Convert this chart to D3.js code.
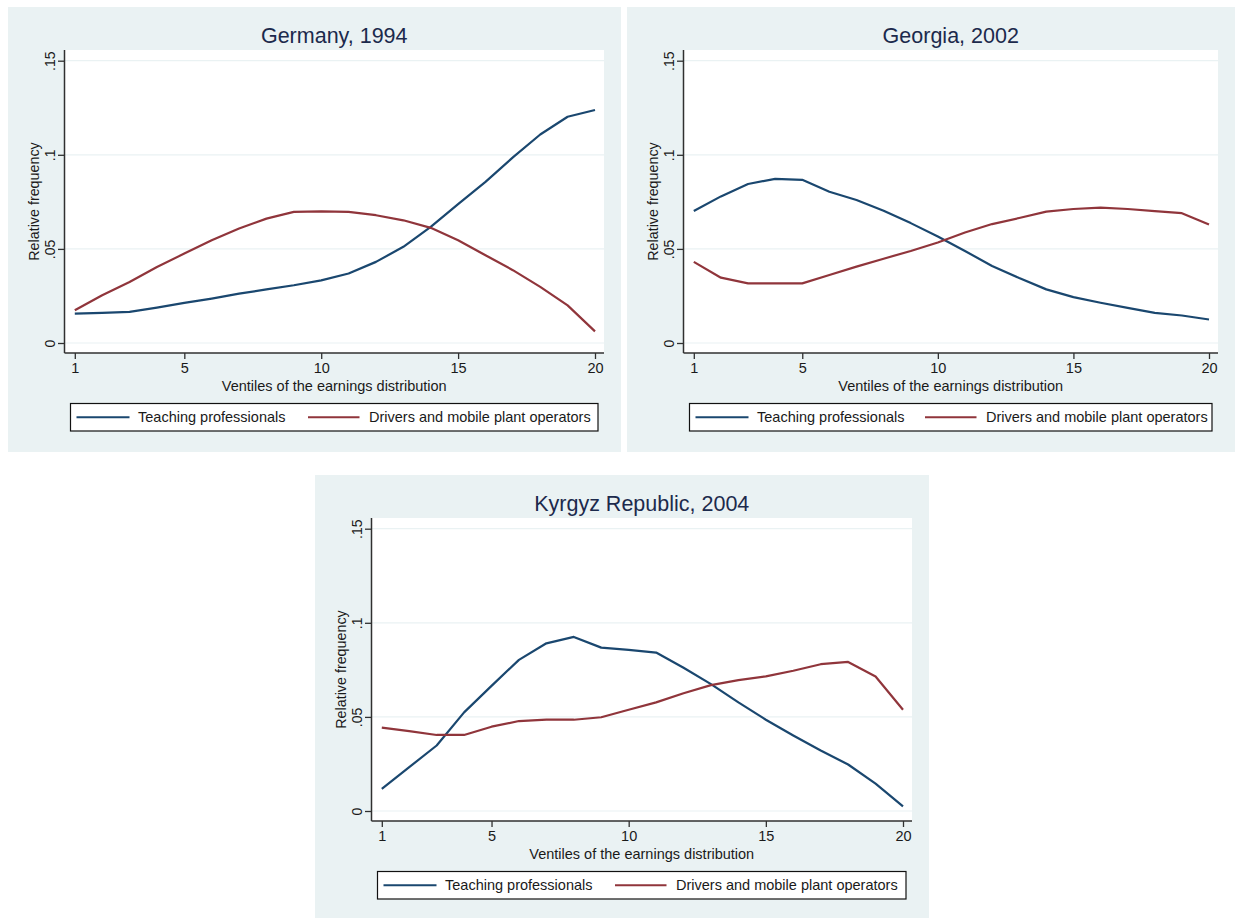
<!DOCTYPE html>
<html>
<head>
<meta charset="utf-8">
<title>Occupational distribution across earnings ventiles</title>
<script src="https://cdn.jsdelivr.net/npm/d3@7"></script>
<style>
  html, body { margin: 0; padding: 0; background: #ffffff; }
  svg { display: block; font-family: "Liberation Sans", Arial, sans-serif; }
</style>
</head>
<body>
<svg id="chart" width="1235" height="918"></svg>
<script>
// Ventiles of the earnings distribution (x categories)
const ventiles = d3.range(1, 21);
const xTicks = [1, 5, 10, 15, 20];
const yTicks = [0, 0.05, 0.1, 0.15];
const seriesNames = ["Teaching professionals", "Drivers and mobile plant operators"];

// Relative frequency by ventile, Germany 1994
const germanyTeaching = [0.0156, 0.0160, 0.0165, 0.0188, 0.0213, 0.0236, 0.0262, 0.0285, 0.0307, 0.0333,
                         0.0369, 0.0431, 0.0511, 0.0617, 0.0738, 0.0856, 0.0986, 0.1108, 0.1202, 0.1238];
const germanyDrivers  = [0.0174, 0.0254, 0.0324, 0.0404, 0.0475, 0.0546, 0.0608, 0.0661, 0.0697, 0.0699,
                         0.0697, 0.0679, 0.0652, 0.0612, 0.0546, 0.0466, 0.0387, 0.0298, 0.0200, 0.0062];

// Georgia 2002
const georgiaTeaching = [0.0701, 0.0779, 0.0845, 0.0872, 0.0867, 0.0804, 0.0760, 0.0703, 0.0637, 0.0566,
                         0.0489, 0.0409, 0.0345, 0.0285, 0.0244, 0.0214, 0.0187, 0.0160, 0.0146, 0.0125];
const georgiaDrivers  = [0.0431, 0.0347, 0.0317, 0.0317, 0.0317, 0.0361, 0.0406, 0.0448, 0.0489, 0.0534,
                         0.0587, 0.0632, 0.0664, 0.0698, 0.0712, 0.0719, 0.0712, 0.0701, 0.0690, 0.0630];

// Kyrgyz Republic 2004
const kyrgyzTeaching  = [0.0118, 0.0233, 0.0348, 0.0524, 0.0665, 0.0803, 0.0891, 0.0925, 0.0868, 0.0856,
                         0.0842, 0.0761, 0.0674, 0.0577, 0.0485, 0.0401, 0.0321, 0.0247, 0.0145, 0.0025];
const kyrgyzDrivers   = [0.0443, 0.0424, 0.0404, 0.0404, 0.0448, 0.0478, 0.0485, 0.0485, 0.0498, 0.0538,
                         0.0577, 0.0626, 0.0669, 0.0695, 0.0715, 0.0745, 0.0780, 0.0792, 0.0715, 0.0538];

const panels = [
  { title: "Germany, 1994",         box: { x: 8,   y: 7,   w: 613, h: 445 }, series: [germanyTeaching, germanyDrivers], key2: 237.5 },
  { title: "Georgia, 2002",         box: { x: 627, y: 7,   w: 608, h: 445 }, series: [georgiaTeaching, georgiaDrivers], key2: 235.5 },
  { title: "Kyrgyz Republic, 2004", box: { x: 315, y: 475, w: 614, h: 443 }, series: [kyrgyzTeaching, kyrgyzDrivers],   key2: 237.5 }
];

const colors = ["#1a476f", "#90353b"];
const bgColor = "#eaf2f3";
const gridColor = "#eaf2f3";
const axisColor = "#303030";
const textColor = "#1a1a1a";
const titleColor = "#1c2a4c";

const svg = d3.select("#chart");

const fmtY = d => d === 0 ? "0" : d3.format(".2~f")(d).replace(/^0/, "");

function drawPanel(p) {
  const b = p.box;
  const g = svg.append("g");

  g.append("rect")
    .attr("x", b.x).attr("y", b.y).attr("width", b.w).attr("height", b.h)
    .attr("fill", bgColor);

  const left = b.x + 56.5, right = b.x + b.w - 17;
  const top = b.y + 43, bottom = b.y + 346;

  // plot region
  g.append("rect")
    .attr("x", left).attr("y", top).attr("width", right - left).attr("height", bottom - top)
    .attr("fill", "#ffffff");

  const x = d3.scaleLinear().domain([1, 20]).range([left + 10.3, right - 9]);
  const y = d3.scaleLinear().domain([0, 0.15]).range([bottom - 10, top + 10.7]);

  // horizontal grid lines
  g.append("g").selectAll("line").data(yTicks).join("line")
    .attr("x1", left).attr("x2", right)
    .attr("y1", d => y(d)).attr("y2", d => y(d))
    .attr("stroke", gridColor).attr("stroke-width", 1.2);

  // x axis
  const xAxis = g.append("g")
    .attr("transform", `translate(0,${bottom})`)
    .call(d3.axisBottom(x).tickValues(xTicks).tickSize(6).tickPadding(4).tickSizeOuter(0));
  xAxis.select(".domain").remove();
  xAxis.selectAll(".tick line").attr("stroke", axisColor).attr("stroke-width", 1.3);
  xAxis.selectAll(".tick text")
    .attr("fill", textColor)
    .style("font-family", '"Liberation Sans", Arial, sans-serif')
    .style("font-size", "14.5px");
  g.append("line")
    .attr("x1", left).attr("x2", right).attr("y1", bottom).attr("y2", bottom)
    .attr("stroke", axisColor).attr("stroke-width", 1.5);

  // y axis
  const yAxis = g.append("g")
    .attr("transform", `translate(${left},0)`)
    .call(d3.axisLeft(y).tickValues(yTicks).tickFormat(fmtY).tickSize(6.5).tickSizeOuter(0));
  yAxis.select(".domain").remove();
  yAxis.selectAll(".tick line").attr("stroke", axisColor).attr("stroke-width", 1.3);
  yAxis.selectAll(".tick text")
    .attr("x", null).attr("dy", null)
    .attr("transform", "translate(-10,0) rotate(-90)")
    .attr("text-anchor", "middle")
    .attr("fill", textColor)
    .style("font-family", '"Liberation Sans", Arial, sans-serif')
    .style("font-size", "14px");
  g.append("line")
    .attr("x1", left).attr("x2", left).attr("y1", top).attr("y2", bottom)
    .attr("stroke", axisColor).attr("stroke-width", 1.5);

  // axis titles
  g.append("text")
    .attr("x", (left + right) / 2).attr("y", bottom + 38)
    .attr("text-anchor", "middle")
    .attr("fill", textColor)
    .style("font-size", "14.5px")
    .text("Ventiles of the earnings distribution");

  g.append("text")
    .attr("transform", `translate(${left - 26},${(top + bottom) / 2}) rotate(-90)`)
    .attr("text-anchor", "middle")
    .attr("fill", textColor)
    .style("font-size", "14.3px")
    .text("Relative frequency");

  // panel title
  g.append("text")
    .attr("x", (left + right) / 2).attr("y", b.y + 35.5)
    .attr("text-anchor", "middle")
    .attr("fill", titleColor)
    .style("font-size", "21.5px")
    .text(p.title);

  // series lines
  const line = d3.line().x((d, i) => x(ventiles[i])).y(d => y(d));
  p.series.forEach((s, k) => {
    g.append("path")
      .datum(s)
      .attr("d", line)
      .attr("fill", "none")
      .attr("stroke", colors[k])
      .attr("stroke-width", 2.2)
      .attr("stroke-linejoin", "round");
  });

  // legend
  const lx = left + 6, lr = right - 6;
  const ly = bottom + 50.5, lb = bottom + 78;
  const lg = g.append("g");
  lg.append("rect")
    .attr("x", lx).attr("y", ly).attr("width", lr - lx).attr("height", lb - ly)
    .attr("fill", "#ffffff").attr("stroke", "#111111").attr("stroke-width", 1.2);
  const cy = (ly + lb) / 2;
  const entries = [
    { x0: lx + 6,      x1: lx + 59,           tx: lx + 67.5 },
    { x0: lx + p.key2, x1: lx + p.key2 + 51.5, tx: lx + p.key2 + 61 }
  ];
  entries.forEach((e, k) => {
    lg.append("line")
      .attr("x1", e.x0).attr("x2", e.x1).attr("y1", cy).attr("y2", cy)
      .attr("stroke", colors[k]).attr("stroke-width", 2.2);
    lg.append("text")
      .attr("x", e.tx).attr("y", cy + 5)
      .attr("fill", textColor)
      .style("font-size", "14.5px")
      .text(seriesNames[k]);
  });
}

panels.forEach(drawPanel);
</script>
</body>
</html>
